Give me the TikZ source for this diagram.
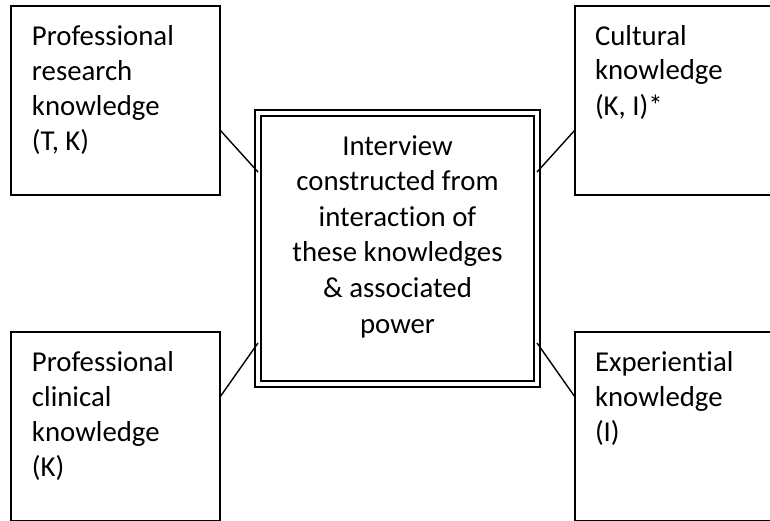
\documentclass[tikz,border=0pt]{standalone}
\usepackage{fontspec}
\setmainfont{Carlito}[Ligatures=NoCommon]
\usetikzlibrary{
    positioning,
    calc
}
\tikzset{%
    knowledge box/.style={%
        rectangle,
        draw,
        line width=1pt,
        inner sep = 0pt,
        outer sep = 0pt,
        anchor=north west,
        minimum width=104.5pt,
        minimum height=94.5pt
    },
    interview box/.style={%
        rectangle,
        draw,
        line width=0.7pt,
        inner sep = 0pt,
        outer sep = 0pt,
        anchor=north west,
        minimum width=142.5pt,
        minimum height=138.5pt
    },
    knowledge text/.style={%
        inner sep = 0pt,
        outer sep = 0pt,
        align=left,
        font=\fontsize{14.4}{17.5}\selectfont
    },
    interview text/.style={%
        inner sep = 0pt,
        outer sep = 0pt,
        align=center,
        font=\fontsize{14.4}{17.8}\selectfont
    },
    link/.style={%
        line width=0.7pt,
    },
}

\begin{document}
\begin{tikzpicture}[x=0.5pt, y=-0.5pt]
    \useasboundingbox (0,0) rectangle (770,520);
    \clip (0,0) rectangle (770,520);

    \node[interview box] (ctr) at (255,110) {};
    \draw[line width=1.3pt] ([shift={(3pt,-3pt)}]ctr.north west) rectangle ([shift={(-3pt,3pt)}]ctr.south east);
    \node[interview text] (ctrtext) at ([yshift=6pt]ctr.center) {Interview\\constructed from\\interaction of\\these knowledges\\\& associated\\power};

    \node[knowledge box] (res) at (11,6) {};
    \node[knowledge box] (cul) at (575,6) {};
    \node[knowledge box] (cli) at (11,332) {};
    \node[knowledge box] (exp) at (575,332) {};

    \node[knowledge text, below right=9.5pt and 10.5pt of res.north west, anchor=north west] (restext) {Professional\\research\\knowledge\\(T, K)};
    \node[knowledge text, below right=9.5pt and 10pt of cul.north west, anchor=north west] (cultext) {Cultural\\knowledge\\(K, I)*};
    \node[knowledge text, below right=9.5pt and 10.5pt of cli.north west, anchor=north west] (clitext) {Professional\\clinical\\knowledge\\(K)};
    \node[knowledge text, below right=9.5pt and 10pt of exp.north west, anchor=north west] (exptext) {Experiential\\knowledge\\(I)};

    \draw[link] ($(res.north east)!0.656!(res.south east)$) -- ($(ctr.north west)!0.224!(ctr.south west) + (1.5pt,0)$);
    \draw[link] ($(cul.north west)!0.656!(cul.south west)$) -- ($(ctr.north east)!0.224!(ctr.south east) + (-1.5pt,0)$);
    \draw[link] ($(cli.north east)!0.344!(cli.south east)$) -- ($(ctr.north west)!0.841!(ctr.south west) + (1.5pt,0)$);
    \draw[link] ($(exp.north west)!0.344!(exp.south west)$) -- ($(ctr.north east)!0.841!(ctr.south east) + (-1.5pt,0)$);
\end{tikzpicture}
\end{document}
